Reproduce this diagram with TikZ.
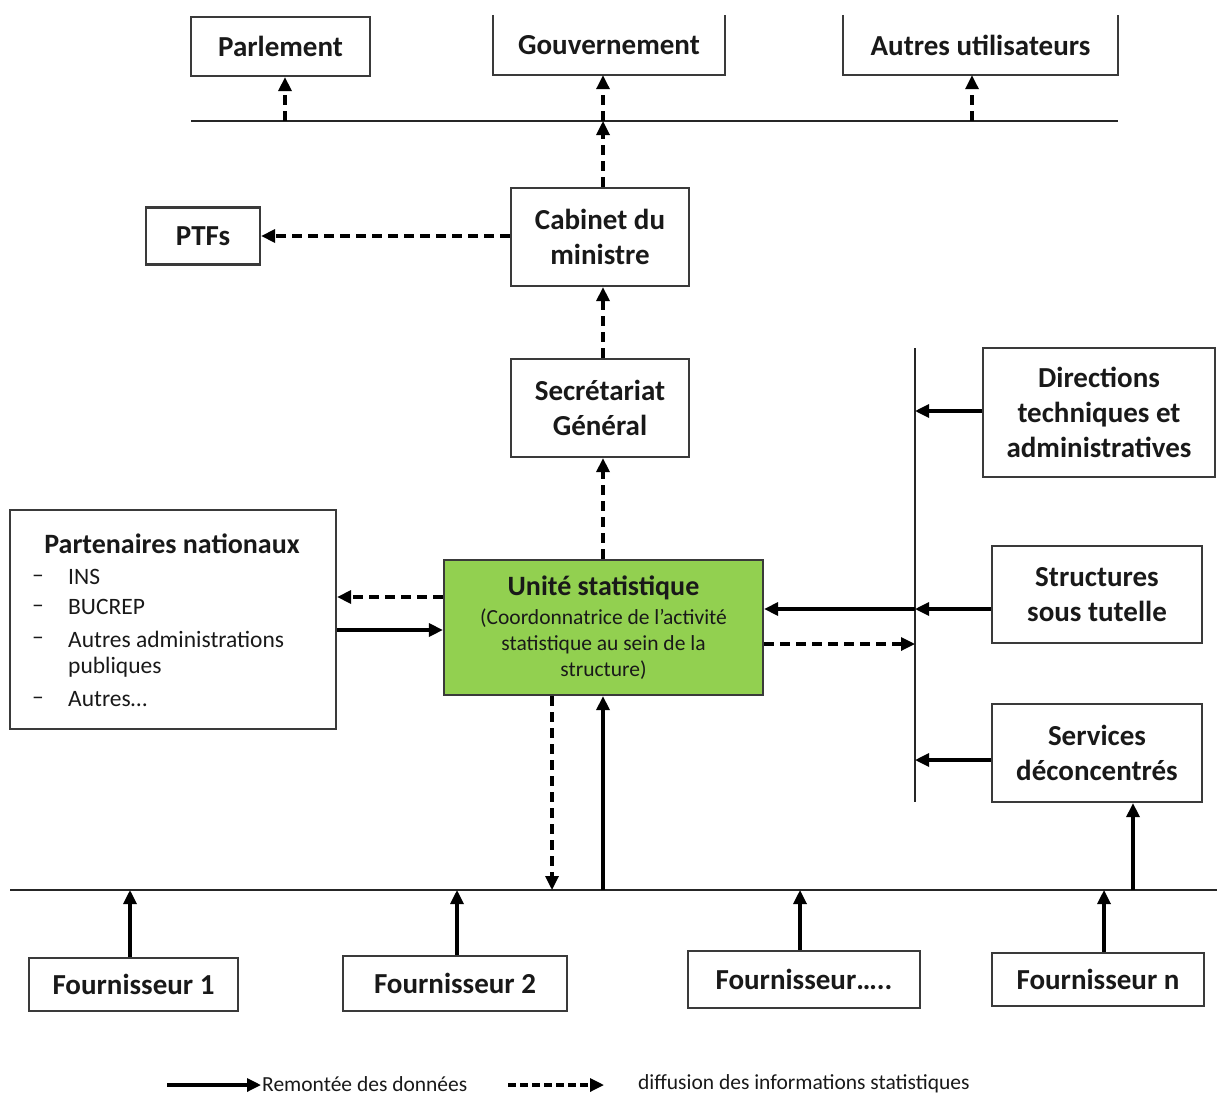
\documentclass[tikz,border=0pt]{standalone}
\usepackage{fontspec}
\setmainfont{Carlito}
\usetikzlibrary{arrows.meta,calc}
\definecolor{usgreen}{HTML}{92D050}
\definecolor{bord}{HTML}{3A3A3A}
\newcommand\bxf{\fontsize{29}{35}\selectfont\bfseries}
\newcommand\smf{\fontsize{21.5}{26}\selectfont\mdseries}
\tikzset{
  box/.style={draw=bord, line width=2.2pt, inner sep=0pt, align=center, font=\bxf, text=black!90},
  nobox/.style={inner sep=0pt, align=center, font=\bxf, text=black!90},
  sarr/.style={line width=3.2pt, -{Triangle[length=14pt,width=13pt]}},
  darr/.style={line width=3.2pt, dash pattern=on 10pt off 6pt, -{Triangle[length=14pt,width=13pt]}},
  bus/.style={line width=1.8pt, black!85},
}
\begin{document}
\begin{tikzpicture}[x=1pt,y=-1pt]
\useasboundingbox (0,0) rectangle (1217,1097);
% top row
\node[box, minimum width=179pt, minimum height=59pt] (parl) at (280.5,46.5) {Parlement};
\node[nobox, minimum width=232pt, minimum height=60pt] (gouv) at (609,45) {Gouvernement};
\node[nobox, minimum width=275pt, minimum height=60pt] (autres) at (980.5,45) {Autres utilisateurs};
\draw[draw=bord, line width=2.2pt] (gouv.north west) |- (gouv.south east) -- (gouv.north east);
\draw[draw=bord, line width=2.2pt] (autres.north west) |- (autres.south east) -- (autres.north east);
\coordinate (tbL) at (191,121);
\coordinate (tbR) at (1118,121);
\draw[bus] (tbL) -- (tbR);
\coordinate (xp) at (285,121);
\coordinate (tg) at (603,121);
\coordinate (xa) at (972,121);
\draw[darr] (xp) -- (xp |- parl.south);
\draw[darr] (tg) -- (tg |- gouv.south);
\draw[darr] (xa) -- (xa |- autres.south);
% middle column
\node[box, minimum width=178pt, minimum height=98pt] (cab) at (600,237) {Cabinet du\\ministre};
\node[box, minimum width=114pt, minimum height=57pt] (ptf) at (203,236) {PTFs};
\node[box, minimum width=178pt, minimum height=98pt] (sg) at (600,408) {Secrétariat\\Général};
\node[box, fill=usgreen, minimum width=319pt, minimum height=135pt,
      font=\fontsize{28}{26}\selectfont\bfseries] (us) at (603.5,627.5)
  {Unité statistique\\[3pt]\smf (Coordonnatrice de l’activité\\\smf statistique au sein de la\\\smf structure)};
\draw[darr] (tg |- cab.north) -- (tg);
\draw[darr] (cab.west |- ptf.east) -- (ptf.east);
\draw[darr] (tg |- sg.north) -- (tg |- cab.south);
\draw[darr] (tg |- us.north) -- (tg |- sg.south);
% partenaires
\node[box, minimum width=326pt, minimum height=219pt] (pn) at (173,619.5) {};
\node[nobox, font=\fontsize{28}{30}\selectfont\bfseries] (pnt) at (172,544) {Partenaires nationaux};
\tikzset{li/.style={inner sep=0pt, anchor=west, font=\fontsize{23.5}{26}\selectfont, text=black!90}}
\node[li] (d1) at (32,579) {–}; \node[li] (i1) at (68,577) {INS};
\node[li] (d2) at (32,609) {–}; \node[li] (i2) at (68,607) {BUCREP};
\node[li] (d3) at (32,641) {–}; \node[li] (i3) at (68,639) {Autres administrations};
\node[li] (i3b) at (68,667) {publiques};
\node[li] (d4) at (32,701) {–}; \node[li] (i4) at (68,699) {Autres…};
\coordinate (y597) at (0,597);
\coordinate (y630) at (0,630);
\draw[darr] (us.west |- y597) -- (pn.east |- y597);
\draw[sarr] (pn.east |- y630) -- (us.west |- y630);
% right side
\coordinate (vt) at (915,348);
\coordinate (vb) at (915,802);
\draw[bus] (vt) -- (vb);
\node[box, minimum width=232pt, minimum height=129pt] (dir) at (1099,412.5) {Directions\\techniques et\\administratives};
\node[box, minimum width=210pt, minimum height=97pt] (sst) at (1097,594.5) {Structures\\sous tutelle};
\node[box, minimum width=210pt, minimum height=98pt] (sd) at (1097,753) {Services\\déconcentrés};
\coordinate (y411) at (0,411);
\coordinate (y609) at (0,609);
\coordinate (y644) at (0,644);
\coordinate (y760) at (0,760);
\draw[sarr] (dir.west |- y411) -- (vt |- y411);
\draw[sarr] (sst.west |- y609) -- (vt |- y609);
\draw[sarr] (vt |- y609) -- (us.east |- y609);
\draw[darr] (us.east |- y644) -- (vt |- y644);
\draw[sarr] (sd.west |- y760) -- (vt |- y760);
% bottom bus
\coordinate (bbL) at (10,890);
\coordinate (bbR) at (1217,890);
\draw[bus] (bbL) -- (bbR);
\coordinate (x552) at (552,890);
\coordinate (x1133) at (1133,890);
\draw[darr] (x552 |- us.south) -- (x552);
\draw[sarr] (tg |- bbL) -- (tg |- us.south);
\draw[sarr] (x1133) -- (x1133 |- sd.south);
% fournisseurs
\node[box, minimum width=209pt, minimum height=53pt] (f1) at (133.5,984.5) {Fournisseur 1};
\node[box, minimum width=224pt, minimum height=55pt] (f2) at (455,983.5) {Fournisseur 2};
\node[box, minimum width=232pt, minimum height=57pt] (f3) at (804,979.5) {Fournisseur…..};
\node[box, minimum width=212pt, minimum height=53pt] (fn) at (1098,979.5) {Fournisseur n};
\coordinate (x130) at (130,890);
\coordinate (x457) at (457,890);
\coordinate (x800) at (800,890);
\coordinate (x1104) at (1104,890);
\draw[sarr] (x130 |- f1.north) -- (x130);
\draw[sarr] (x457 |- f2.north) -- (x457);
\draw[sarr] (x800 |- f3.north) -- (x800);
\draw[sarr] (x1104 |- fn.north) -- (x1104);
% legend
\coordinate (l1a) at (167,1085);
\coordinate (l1b) at (261,1085);
\coordinate (l2a) at (508,1085);
\coordinate (l2b) at (604,1085);
\draw[sarr] (l1a) -- (l1b);
\draw[darr, dash pattern=on 8pt off 4pt] (l2a) -- (l2b);
\node[inner sep=0pt, anchor=west, font=\fontsize{21.5}{24}\selectfont, text=black!90] (lt1) at (262,1084) {Remontée des données};
\node[inner sep=0pt, anchor=west, font=\fontsize{21.5}{24}\selectfont, text=black!90] (lt2) at (638,1084) {diffusion des informations statistiques};
\end{tikzpicture}
\end{document}
